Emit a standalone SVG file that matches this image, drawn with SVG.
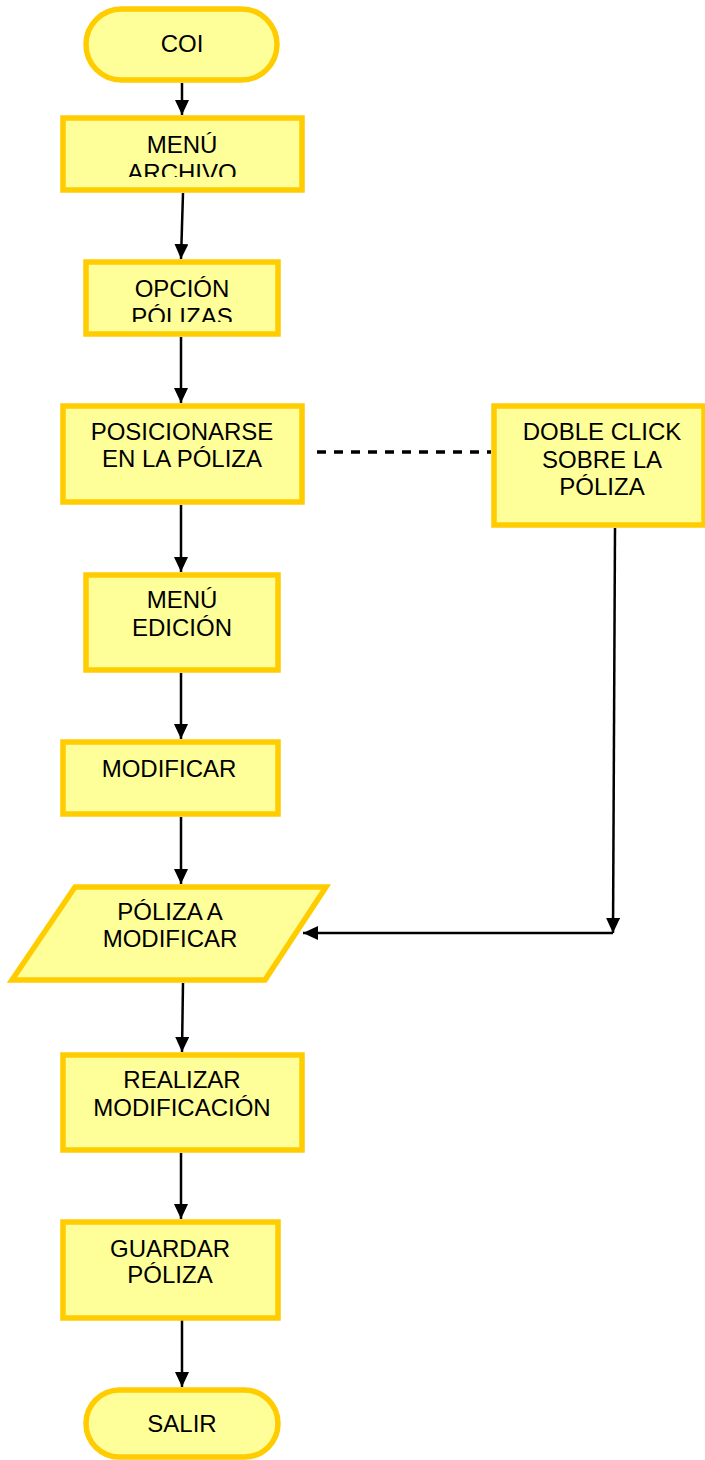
<svg xmlns="http://www.w3.org/2000/svg" width="705" height="1460" viewBox="0 0 705 1460">
<style>
.n{fill:#FFFF99;stroke:#FFCC00;stroke-width:5.5}
.t{font-family:"Liberation Sans",Arial,sans-serif;font-size:24px;fill:#000;text-anchor:middle}
.c{fill:none;stroke:#000;stroke-width:2.5}
</style>
<defs>
<marker id="ah" markerUnits="userSpaceOnUse" markerWidth="16" markerHeight="15" refX="15" refY="7" orient="auto">
<path d="M0,0 L15,7 L0,14 z" fill="#000"/>
</marker>
<clipPath id="clipA"><rect x="60" y="115" width="245" height="62"/></clipPath>
<clipPath id="clipB"><rect x="83" y="259" width="198" height="63"/></clipPath>
</defs>
<rect width="705" height="1460" fill="#fff"/>
<g id="connectors">
<line class="c" x1="182" y1="83" x2="182" y2="115" marker-end="url(#ah)"/>
<line class="c" x1="183" y1="193" x2="181" y2="259" marker-end="url(#ah)"/>
<line class="c" x1="181" y1="337" x2="181" y2="403" marker-end="url(#ah)"/>
<line class="c" x1="181" y1="505" x2="181" y2="572" marker-end="url(#ah)"/>
<line class="c" x1="181" y1="673" x2="181" y2="739" marker-end="url(#ah)"/>
<line class="c" x1="181" y1="817" x2="181" y2="884" marker-end="url(#ah)"/>
<line class="c" x1="183" y1="983" x2="182" y2="1052" marker-end="url(#ah)"/>
<line class="c" x1="181" y1="1153" x2="181" y2="1219" marker-end="url(#ah)"/>
<line class="c" x1="182" y1="1320" x2="182" y2="1387" marker-end="url(#ah)"/>
<line class="c" x1="317" y1="452" x2="491" y2="452" style="stroke-width:3.5;stroke-dasharray:9,8"/>
<line class="c" x1="615" y1="528" x2="613" y2="933" marker-end="url(#ah)"/>
<line class="c" x1="613" y1="933" x2="303" y2="933" marker-end="url(#ah)"/>
</g>
<g id="coi">
<rect class="n" x="86" y="9" width="191" height="71" rx="35.5"/>
<text class="t" x="182" y="52">COI</text>
</g>
<g id="menu-archivo">
<rect class="n" x="63" y="118" width="239" height="72"/>
<g clip-path="url(#clipA)">
<text class="t" x="182" y="153">MENÚ</text>
<text class="t" x="182" y="181">ARCHIVO</text>
</g>
</g>
<g id="opcion-polizas">
<rect class="n" x="86" y="262" width="192" height="72"/>
<g clip-path="url(#clipB)">
<text class="t" x="182" y="297">OPCIÓN</text>
<text class="t" x="182" y="325">PÓLIZAS</text>
</g>
</g>
<g id="posicionarse">
<rect class="n" x="63" y="406" width="239" height="96"/>
<text class="t" x="182" y="440">POSICIONARSE</text>
<text class="t" x="182" y="467">EN LA PÓLIZA</text>
</g>
<g id="doble-click">
<rect class="n" x="494" y="406" width="210" height="119"/>
<text class="t" x="602" y="440">DOBLE CLICK</text>
<text class="t" x="602" y="468">SOBRE LA</text>
<text class="t" x="602" y="495">PÓLIZA</text>
</g>
<g id="menu-edicion">
<rect class="n" x="86" y="575" width="192" height="95"/>
<text class="t" x="182" y="608">MENÚ</text>
<text class="t" x="182" y="636">EDICIÓN</text>
</g>
<g id="modificar">
<rect class="n" x="63" y="742" width="215" height="72"/>
<text class="t" x="169" y="777">MODIFICAR</text>
</g>
<g id="poliza-a-modificar">
<polygon class="n" points="75,887 326,887 265,980 12,980"/>
<text class="t" x="170" y="920">PÓLIZA A</text>
<text class="t" x="170" y="947">MODIFICAR</text>
</g>
<g id="realizar">
<rect class="n" x="63" y="1055" width="239" height="95"/>
<text class="t" x="182" y="1088">REALIZAR</text>
<text class="t" x="182" y="1116">MODIFICACIÓN</text>
</g>
<g id="guardar">
<rect class="n" x="63" y="1222" width="215" height="96"/>
<text class="t" x="170" y="1257">GUARDAR</text>
<text class="t" x="170" y="1283">PÓLIZA</text>
</g>
<g id="salir">
<rect class="n" x="86" y="1390" width="192" height="67" rx="33.5"/>
<text class="t" x="182" y="1432">SALIR</text>
</g>
</svg>
